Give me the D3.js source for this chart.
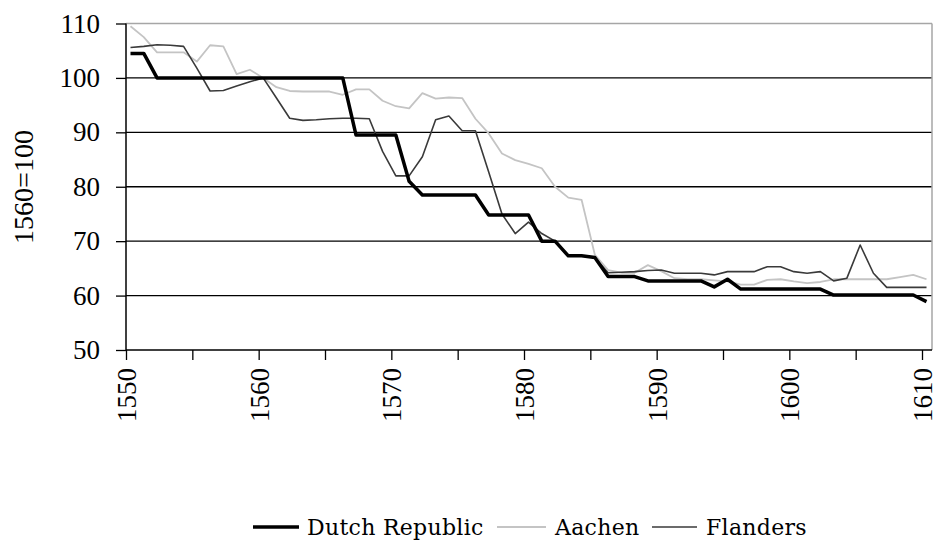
<!DOCTYPE html>
<html>
<head>
<meta charset="utf-8">
<script src="https://cdn.jsdelivr.net/npm/d3@7"></script>
<style>
  html, body { margin: 0; padding: 0; background: #fff; }
  svg { display: block; }
</style>
</head>
<body>
<svg id="chart" width="938" height="545"></svg>
<script>
const years = [1550,1551,1552,1553,1554,1555,1556,1557,1558,1559,
  1560,1561,1562,1563,1564,1565,1566,1567,1568,1569,
  1570,1571,1572,1573,1574,1575,1576,1577,1578,1579,
  1580,1581,1582,1583,1584,1585,1586,1587,1588,1589,
  1590,1591,1592,1593,1594,1595,1596,1597,1598,1599,
  1600,1601,1602,1603,1604,1605,1606,1607,1608,1609,1610];

const dutchRepublic = [104.5,104.5,100,100,100,100,100,100,100,100,
  100,100,100,100,100,100,100,89.5,89.5,89.5,
  89.5,81,78.5,78.5,78.5,78.5,78.5,74.8,74.8,74.8,
  74.8,70,70,67.3,67.3,67,63.5,63.5,63.5,62.7,
  62.7,62.7,62.7,62.7,61.6,63,61.2,61.2,61.2,61.2,
  61.2,61.2,61.2,60.1,60.1,60.1,60.1,60.1,60.1,60.1,58.9];

const aachen = [109.5,107.5,104.7,104.7,104.7,103,106,105.8,100.7,101.5,
  100,98.3,97.6,97.5,97.5,97.5,96.9,97.9,97.9,95.8,
  94.8,94.4,97.2,96.2,96.4,96.3,92.5,89.8,86.1,84.9,
  84.2,83.4,80,78,77.6,67.5,64.7,64.2,64.2,65.6,
  64.5,63.2,63,63,62.8,62.6,62,62,62.9,63,
  62.6,62.3,62.5,63,63,63,63,63,63.4,63.8,63];

const flanders = [105.6,105.8,106.1,106,105.8,101.8,97.6,97.7,98.5,99.3,
  100,96.3,92.6,92.2,92.3,92.5,92.6,92.6,92.5,86.5,
  82,82,85.5,92.3,93,90.3,90.3,82.7,75,71.4,
  73.5,71.4,70,67.3,67.3,67,64.2,64.3,64.4,64.6,
  64.7,64.1,64.1,64.1,63.8,64.4,64.4,64.4,65.3,65.3,
  64.4,64.1,64.4,62.7,63.2,69.3,64.1,61.5,61.5,61.5,61.5];

const yTicks = [50,60,70,80,90,100,110];
const xTickLabels = [1550,1560,1570,1580,1590,1600,1610];
const xMinorTicks = [1550,1555,1560,1565,1570,1575,1580,1585,1590,1595,1600,1605,1610];
const seriesNames = ["Dutch Republic","Aachen","Flanders"];
const yAxisTitle = "1560=100";

const FONT = "DejaVu Serif";
const svg = d3.select("#chart");
const plotLeft = 126, plotRight = 932, plotTop = 23.5, plotBottom = 350;

const x = d3.scaleLinear().domain([1550,1610]).range([plotLeft, 922]);
const xData = d3.scaleLinear().domain([1550,1610]).range([130.5, 926.5]);
const y = d3.scaleLinear().domain([50,110]).range([plotBottom, plotTop]);

svg.append("g").selectAll("line").data(yTicks.filter(v => v > 50 && v < 110)).join("line")
  .attr("x1", plotLeft).attr("x2", plotRight)
  .attr("y1", d => y(d)).attr("y2", d => y(d))
  .attr("stroke", "#000").attr("stroke-width", 1.3);

svg.append("line").attr("x1", plotLeft).attr("x2", plotRight).attr("y1", y(110)).attr("y2", y(110))
  .attr("stroke", "#a6a6a6").attr("stroke-width", 1.5);
svg.append("line").attr("x1", plotRight).attr("x2", plotRight).attr("y1", y(110)).attr("y2", plotBottom)
  .attr("stroke", "#a6a6a6").attr("stroke-width", 1.5);

const yAxis = d3.axisLeft(y).tickValues(yTicks).tickSize(10).tickPadding(16);
const gy = svg.append("g").attr("transform", `translate(${plotLeft},0)`).call(yAxis);
gy.attr("font-family", "Liberation Serif").attr("font-size", 27);
gy.select(".domain").attr("stroke", "#000").attr("stroke-width", 1.5).attr("d", `M0,${y(110)}V${plotBottom}`);
gy.selectAll(".tick line").attr("stroke", "#000").attr("stroke-width", 1.3);
gy.selectAll(".tick text").attr("fill", "#000");

const xAxis = d3.axisBottom(x).tickValues(xMinorTicks).tickSize(10).tickFormat(d => xTickLabels.includes(d) ? d : "");
const gx = svg.append("g").attr("transform", `translate(0,${plotBottom})`).call(xAxis);
gx.attr("font-family", "Liberation Serif").attr("font-size", 27);
gx.select(".domain").attr("stroke", "#000").attr("stroke-width", 1.5).attr("d", `M${plotLeft},0H${plotRight}`);
gx.selectAll(".tick line").attr("stroke", "#000").attr("stroke-width", 1.3);
gx.selectAll(".tick text")
  .attr("fill", "#000")
  .attr("text-anchor", "end")
  .attr("transform", "translate(0,18) rotate(-90)")
  .attr("x", 0).attr("y", 0).attr("dy", "0.35em");

svg.append("text")
  .attr("transform", `translate(23,187) rotate(-90)`)
  .attr("text-anchor", "middle").attr("dy", "0.35em")
  .attr("font-family", "Liberation Serif")
  .attr("font-size", 28).text(yAxisTitle);

const line = vals => d3.line().x((d, i) => xData(years[i])).y(d => y(d))(vals);

svg.append("path").attr("d", line(aachen)).attr("fill", "none")
  .attr("stroke", "#c4c4c4").attr("stroke-width", 1.8).attr("stroke-linejoin", "round");
svg.append("path").attr("d", line(flanders)).attr("fill", "none")
  .attr("stroke", "#3a3a3a").attr("stroke-width", 1.6).attr("stroke-linejoin", "round");
svg.append("path").attr("d", line(dutchRepublic)).attr("fill", "none")
  .attr("stroke", "#000").attr("stroke-width", 3.5).attr("stroke-linejoin", "round");

const legend = [
  {name: seriesNames[0], x1: 253, x2: 299, tx: 307, color: "#000", w: 3.5},
  {name: seriesNames[1], x1: 497, x2: 546, tx: 555, color: "#c4c4c4", w: 1.8},
  {name: seriesNames[2], x1: 652, x2: 697, tx: 706, color: "#3a3a3a", w: 1.6}
];
const lg = svg.append("g");
legend.forEach(l => {
  lg.append("line").attr("x1", l.x1).attr("x2", l.x2).attr("y1", 527).attr("y2", 527)
    .attr("stroke", l.color).attr("stroke-width", l.w);
  lg.append("text").attr("x", l.tx).attr("y", 535).attr("font-size", 22)
    .attr("font-family", FONT)
    .attr("letter-spacing", 0.3).text(l.name);
});
</script>
</body>
</html>
